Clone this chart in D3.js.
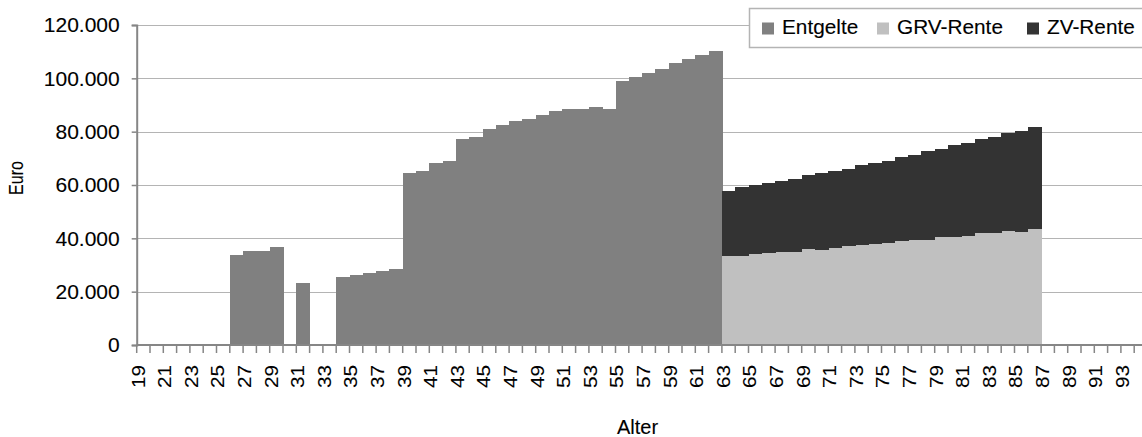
<!DOCTYPE html>
<html>
<head>
<meta charset="utf-8">
<script src="https://cdn.jsdelivr.net/npm/d3@7"></script>
<style>
  html, body { margin: 0; padding: 0; background: #fff; }
  svg { display: block; font-family: "Liberation Sans", Arial, sans-serif; }
  svg text { stroke: #000; stroke-width: 0.12px; paint-order: stroke; }
</style>
</head>
<body>
<svg id="chart" width="1142" height="437"></svg>
<script>
// Altersjahre (Kategorien der x-Achse)
const ages = [19, 20, 21, 22, 23, 24, 25, 26, 27, 28, 29, 30, 31, 32, 33, 34, 35, 36, 37, 38,
  39, 40, 41, 42, 43, 44, 45, 46, 47, 48, 49, 50, 51, 52, 53, 54, 55, 56, 57, 58,
  59, 60, 61, 62, 63, 64, 65, 66, 67, 68, 69, 70, 71, 72, 73, 74, 75, 76, 77, 78,
  79, 80, 81, 82, 83, 84, 85, 86, 87, 88, 89, 90, 91, 92, 93, 94];

// Entgelte je Alter (Euro)
const entgelte = [0, 0, 0, 0, 0, 0, 0, 33800, 35300, 35300, 36800, 0, 23300, 0, 0, 25500, 26300, 27000, 27800, 28500,
  64500, 65300, 68300, 69000, 77300, 78000, 81000, 82500, 84000, 84800, 86300, 87800, 88500, 88500, 89300, 88500, 99000, 100500, 102000, 103500,
  105800, 107300, 108800, 110300, 0, 0, 0, 0, 0, 0, 0, 0, 0, 0, 0, 0, 0, 0, 0, 0,
  0, 0, 0, 0, 0, 0, 0, 0, 0, 0, 0, 0, 0, 0, 0, 0];

// Gesetzliche Rente je Alter (Euro)
const grvRente = [0, 0, 0, 0, 0, 0, 0, 0, 0, 0, 0, 0, 0, 0, 0, 0, 0, 0, 0, 0,
  0, 0, 0, 0, 0, 0, 0, 0, 0, 0, 0, 0, 0, 0, 0, 0, 0, 0, 0, 0,
  0, 0, 0, 0, 33400, 33400, 34100, 34500, 34900, 34900, 36000, 35600, 36400, 37100, 37500, 37900, 38300, 39000, 39400, 39400,
  40500, 40500, 40900, 42000, 42000, 42800, 42400, 43500, 0, 0, 0, 0, 0, 0, 0, 0];

// Zusatzversorgung je Alter (Euro)
const zvRente = [0, 0, 0, 0, 0, 0, 0, 0, 0, 0, 0, 0, 0, 0, 0, 0, 0, 0, 0, 0,
  0, 0, 0, 0, 0, 0, 0, 0, 0, 0, 0, 0, 0, 0, 0, 0, 0, 0, 0, 0,
  0, 0, 0, 0, 24400, 25900, 25900, 26300, 26600, 27400, 27800, 28900, 28900, 28900, 30000, 30400, 30800, 31500, 31900, 33400,
  33000, 34500, 34900, 35300, 36000, 36800, 37900, 38300, 0, 0, 0, 0, 0, 0, 0, 0];

const seriesNames = ["Entgelte", "GRV-Rente", "ZV-Rente"];
const seriesColors = ["#808080", "#c0c0c0", "#333333"];
const yTicks = [0, 20000, 40000, 60000, 80000, 100000, 120000];

const rows = ages.map((a, i) => ({
  age: a,
  "Entgelte": entgelte[i],
  "GRV-Rente": grvRente[i],
  "ZV-Rente": zvRente[i]
}));

const svg = d3.select("#chart");
const plotLeft = 136.7, plotTop = 25, plotBottom = 345, step = 13.3;
const plotRight = plotLeft + ages.length * step;

const x = d3.scaleBand().domain(ages).range([plotLeft, plotRight]).padding(0);
const y = d3.scaleLinear().domain([0, 120000]).range([plotBottom, plotTop]);
const color = d3.scaleOrdinal().domain(seriesNames).range(seriesColors);

const de = d3.formatLocale({ decimal: ",", thousands: ".", grouping: [3], currency: ["", " €"] });
const fmt = de.format(",d");

// Gitternetzlinien
svg.append("g")
  .selectAll("line")
  .data(yTicks.filter(d => d > 0))
  .join("line")
  .attr("x1", plotLeft).attr("x2", plotRight)
  .attr("y1", d => Math.round(y(d)) + 0.5).attr("y2", d => Math.round(y(d)) + 0.5)
  .attr("stroke", "#b4b4b4").attr("stroke-width", 1.2);

// Gestapelte Säulen
const stacked = d3.stack().keys(seriesNames)(rows);
svg.append("g")
  .selectAll("g")
  .data(stacked)
  .join("g")
  .attr("fill", d => color(d.key))
  .selectAll("rect")
  .data(d => d.filter(p => p[1] - p[0] > 0))
  .join("rect")
  .attr("x", p => x(p.data.age))
  .attr("width", x.bandwidth() + 0.6)
  .attr("y", p => y(p[1]))
  .attr("height", p => y(p[0]) - y(p[1]))
  .attr("shape-rendering", "crispEdges");

// y-Achse
const yAxis = svg.append("g")
  .attr("transform", `translate(${plotLeft},0)`)
  .call(d3.axisLeft(y).tickValues(yTicks).tickFormat(fmt).tickSize(5).tickPadding(12));
yAxis.select(".domain").attr("stroke", "#868686").attr("stroke-width", 2);
yAxis.selectAll(".tick line").attr("stroke", "#868686").attr("stroke-width", 1.5);
yAxis.selectAll(".tick text")
  .attr("font-family", "'Liberation Sans', Arial, sans-serif")
  .attr("font-size", 21).attr("fill", "#000");

// x-Achse: Linie, Teilstriche zwischen den Kategorien, Beschriftung jedes zweiten Alters
const xAxis = svg.append("g");
xAxis.append("line")
  .attr("x1", plotLeft).attr("x2", plotRight)
  .attr("y1", plotBottom).attr("y2", plotBottom)
  .attr("stroke", "#868686").attr("stroke-width", 2);
const boundaries = ages.map(a => x(a)).concat([plotRight]);
xAxis.selectAll("line.tick")
  .data(boundaries)
  .join("line")
  .attr("class", "tick")
  .attr("x1", d => d).attr("x2", d => d)
  .attr("y1", plotBottom).attr("y2", plotBottom + 8)
  .attr("stroke", "#868686").attr("stroke-width", 1.5);
xAxis.selectAll("text")
  .data(ages.filter((a, i) => i % 2 === 0))
  .join("text")
  .attr("transform", a => `translate(${x(a) + x.bandwidth() / 2 - 5},365) rotate(-90) scale(1,0.85)`)
  .attr("text-anchor", "end")
  .attr("dy", "0.35em")
  .attr("font-size", 20.7)
  .attr("fill", "#000")
  .text(a => a);

// Achsentitel
svg.append("text")
  .attr("transform", "translate(16,178) rotate(-90) scale(0.8,1)")
  .attr("text-anchor", "middle")
  .attr("dy", "0.35em")
  .attr("font-size", 20)
  .text("Euro");
svg.append("text")
  .attr("x", 637.5).attr("y", 434)
  .attr("text-anchor", "middle")
  .attr("font-size", 20)
  .text("Alter");

// Legende
const legend = svg.append("g");
legend.append("rect")
  .attr("x", 749.5).attr("y", 8.5).attr("width", 420).attr("height", 39)
  .attr("fill", "#fff").attr("stroke", "#b4b4b4").attr("stroke-width", 1.5);
const legendOffsets = [762, 877, 1027];
const items = legend.selectAll("g.item")
  .data(seriesNames)
  .join("g")
  .attr("class", "item")
  .attr("transform", (d, i) => `translate(${legendOffsets[i]},0)`);
items.append("rect")
  .attr("x", 0).attr("y", 22.5).attr("width", 12).attr("height", 12)
  .attr("fill", d => color(d));
items.append("text")
  .attr("x", 20).attr("y", 34)
  .attr("font-size", 20.8)
  .attr("fill", "#000")
  .text(d => d);
</script>
</body>
</html>
